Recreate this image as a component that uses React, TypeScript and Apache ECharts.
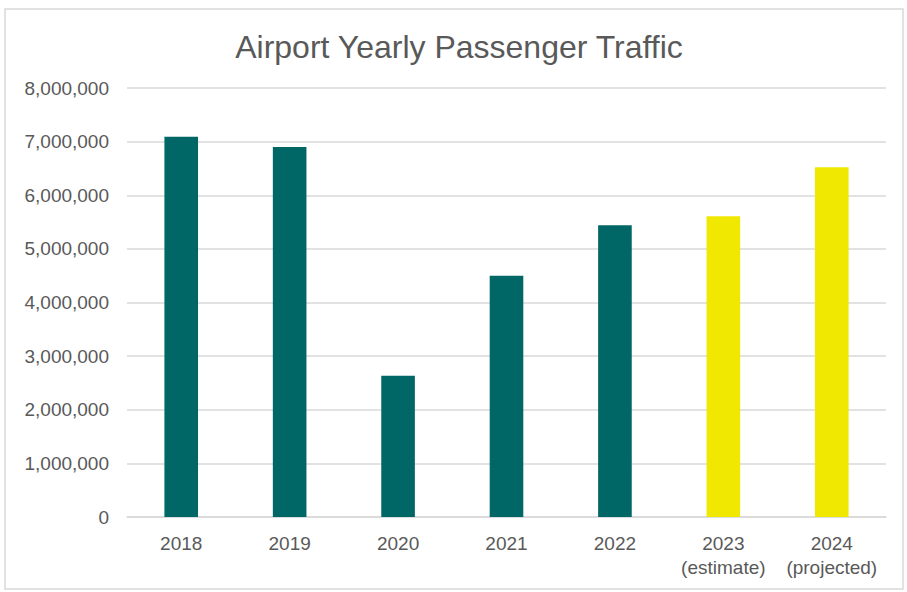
import React, { useEffect, useRef } from "react";
import * as echarts from "echarts";

const categories = ["2018", "2019", "2020", "2021", "2022", "2023\n(estimate)", "2024\n(projected)"];
const passengers = [7090000, 6900000, 2635000, 4500000, 5440000, 5610000, 6520000];
const isForecast = [false, false, false, false, false, true, true];
const yTicks = { min: 0, max: 8000000, interval: 1000000 };

const FONT = "'Liberation Sans', Arial, sans-serif";

export default function App() {
  const ref = useRef<HTMLDivElement>(null);
  useEffect(() => {
    if (!ref.current) return;
    const chart = echarts.init(ref.current, undefined, { renderer: "svg" });
    chart.setOption({
      animation: false,
      backgroundColor: "#ffffff",
      graphic: [
        {
          type: "rect",
          shape: { x: 5, y: 9, width: 898, height: 580 },
          style: { fill: "none", stroke: "#d9d9d9", lineWidth: 1.5 },
          silent: true,
        },
      ],
      title: {
        text: "Airport Yearly Passenger Traffic",
        left: 454,
        textAlign: "center",
        top: 26,
        textStyle: { fontFamily: FONT, fontSize: 32, fontWeight: "normal", color: "#595959" },
      },
      grid: { left: 127, right: 21, top: 88, bottom: 75 },
      xAxis: {
        type: "category",
        data: categories,
        axisLine: { lineStyle: { color: "#d9d9d9", width: 1.5 } },
        axisTick: { show: false },
        axisLabel: {
          fontFamily: FONT,
          fontSize: 19,
          color: "#595959",
          margin: 14,
          lineHeight: 24,
          interval: 0,
        },
      },
      yAxis: {
        type: "value",
        min: yTicks.min,
        max: yTicks.max,
        interval: yTicks.interval,
        axisLine: { show: false },
        axisTick: { show: false },
        splitLine: { lineStyle: { color: "#d9d9d9", width: 1.5 } },
        axisLabel: {
          fontFamily: FONT,
          fontSize: 19,
          color: "#595959",
          margin: 18,
          formatter: (v: number) => v.toLocaleString("en-US"),
        },
      },
      series: [
        {
          type: "bar",
          data: passengers.map((v, i) => ({
            value: v,
            itemStyle: { color: isForecast[i] ? "#f0e800" : "#006766" },
          })),
          barWidth: "31%",
        },
      ],
    });
    return () => chart.dispose();
  }, []);
  return (
    <div style={{ position: "absolute", left: 0, top: 0 }}>
      <div ref={ref} style={{ width: 907, height: 592 }} />
    </div>
  );
}
